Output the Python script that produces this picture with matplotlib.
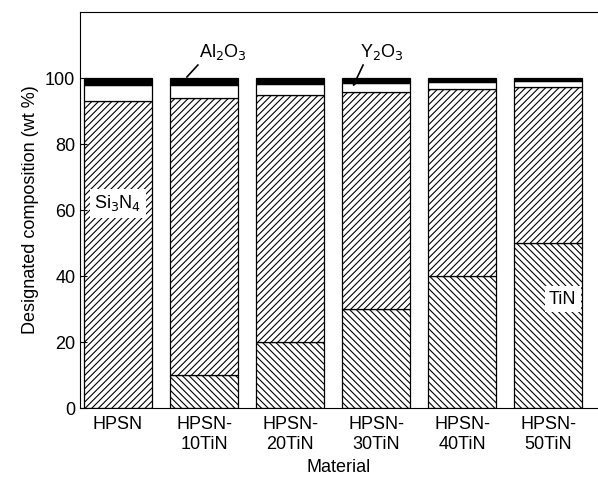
import matplotlib.pyplot as plt
import numpy as np

plt.rcParams['font.family'] = ['Liberation Sans', 'DejaVu Sans']
plt.rcParams['hatch.linewidth'] = 0.8

materials = ['HPSN', 'HPSN-\n10TiN', 'HPSN-\n20TiN', 'HPSN-\n30TiN', 'HPSN-\n40TiN', 'HPSN-\n50TiN']
tin = [0, 10, 20, 30, 40, 50]
si3n4 = [93.0, 84.0, 74.8, 65.8, 56.8, 47.3]
y2o3 = [5.0, 4.0, 3.5, 2.7, 2.0, 1.7]
al2o3 = [2.0, 2.0, 1.7, 1.5, 1.2, 1.0]

x = np.arange(len(materials))
w = 0.79

fig = plt.figure(figsize=(5.98, 4.84), dpi=100)
ax = fig.add_axes([0.134, 0.157, 0.866, 0.818])

b1 = np.array(tin)
b2 = b1 + np.array(si3n4)
b3 = b2 + np.array(y2o3)
ax.bar(x, tin, w, color='white', edgecolor='black', hatch='\\\\\\\\\\', linewidth=0.9)
ax.bar(x, si3n4, w, bottom=b1, color='white', edgecolor='black', hatch='/////', linewidth=0.9)
ax.bar(x, y2o3, w, bottom=b2, color='white', edgecolor='black', linewidth=0.9)
ax.bar(x, al2o3, w, bottom=b3, color='black', edgecolor='black', linewidth=0.9)

ax.set_xlim(-0.44, 5.58)
ax.set_ylim(0, 120)
ax.set_yticks([0, 20, 40, 60, 80, 100])
ax.set_xticks(x)
ax.set_xticklabels(materials, fontsize=13)
ax.tick_params(axis='y', direction='in', labelsize=13, length=5)
ax.tick_params(axis='x', length=0, pad=6)
ax.spines['right'].set_visible(False)
ax.set_ylabel('Designated composition (wt %)', fontsize=13)
ax.set_xlabel('Material', fontsize=13, labelpad=4)

box = dict(facecolor='white', edgecolor='none', pad=3)
ax.text(0, 62, r'Si$_3$N$_4$', fontsize=13, ha='center', va='center', bbox=box)
ax.text(5.17, 33, 'TiN', fontsize=13, ha='center', va='center', bbox=box)

# labels for the thin oxide layers, with leader lines
ax.text(1.22, 108, r'Al$_2$O$_3$', fontsize=13, ha='center', va='center')
ax.annotate('', xy=(0.8, 100.3), xytext=(0.93, 104),
            arrowprops=dict(arrowstyle='-', color='black', lw=1.2,
                            shrinkA=0, shrinkB=0))
ax.text(3.07, 108, r'Y$_2$O$_3$', fontsize=13, ha='center', va='center')
ax.annotate('', xy=(2.73, 97.4), xytext=(2.85, 104),
            arrowprops=dict(arrowstyle='-|>', color='black', lw=1.2,
                            mutation_scale=8, shrinkA=0, shrinkB=0))

fig.savefig('out.png', dpi=100)
